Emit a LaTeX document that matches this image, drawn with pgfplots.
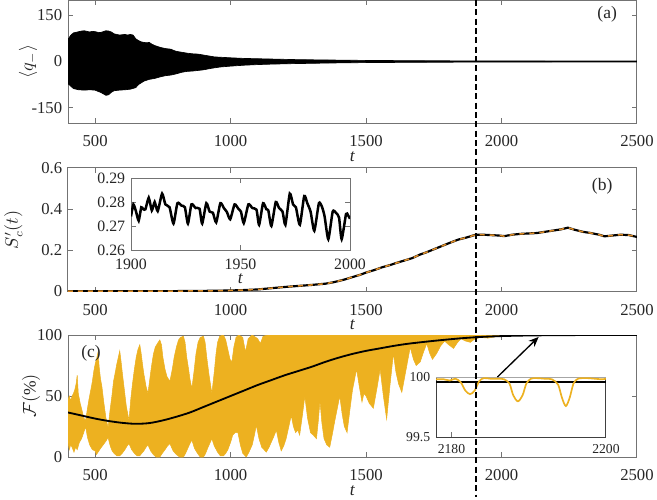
\documentclass[border=0pt]{standalone}
\usepackage{fontspec}
\setmainfont{Liberation Serif}
\usepackage{pgfplots}
\pgfplotsset{compat=1.18}
\usepgfplotslibrary{fillbetween}
\usetikzlibrary{arrows.meta}

\definecolor{myyel}{rgb}{0.929,0.694,0.125}
\definecolor{myorg}{rgb}{0.87,0.55,0.15}
\definecolor{axgray}{gray}{0.45}

\pgfplotsset{
  base/.style={
    scale only axis,
    tick align=inside, tick pos=both,
    major tick length=3pt,
    axis line style={axgray, line width=0.6pt},
    every tick/.style={axgray, line width=0.6pt},
    ticklabel style={font=\rmfamily\fontsize{10}{12}\selectfont, text=black!85},
    label style={font=\fontsize{10.5}{12}\selectfont, text=black!85},
    /pgf/number format/assume math mode=true,
    /pgf/number format/1000 sep={},
    scaled ticks=false,
    axis background/.style={fill=white},
  },
  panel/.style={
    base, width=341.4pt,
    xmin=400, xmax=2500, xtick={500,1000,...,2500},
    xticklabel style={yshift=-4pt},
    xlabel={\textit{t}},
    xlabel style={at={(axis description cs:0.5,0)}, anchor=center, yshift=-20pt},
  },
}

\begin{document}
\begin{tikzpicture}

% ---------- (a)
\begin{axis}[panel, at={(40.8pt,-73.8pt)}, anchor=south west, height=73.8pt,
  ymin=-200, ymax=200, ytick={-150,0,150},
  ylabel={$\langle q_{-}\rangle$},
  ylabel style={at={(axis description cs:-0.07,0.5)}, anchor=center}]
\addplot[name path=up, black, line width=0.4pt] coordinates {
 (400,72) (410,85) (420,93) (430,95) (440,97) (450,99) (460,100) (470,98)
 (480,96) (490,98) (500,97) (510,95) (520,94) (530,97) (540,100) (550,99)
 (560,96) (570,90) (580,88) (590,86) (600,87) (610,88) (620,86) (630,88)
 (640,86) (650,74) (660,68) (670,64) (680,62) (690,61) (700,62) (710,56)
 (720,52) (730,49) (740,46) (750,44) (760,42) (770,41) (780,40) (790,36)
 (800,33) (820,30) (840,27) (860,25) (880,24) (900,21) (920,18) (940,15)
 (960,14) (980,13) (1000,12) (1050,10) (1100,9) (1150,8) (1200,7) (1250,6)
 (1300,5.5) (1350,5) (1400,4.5) (1500,3.5) (1600,3) (1700,2.5) (1800,2.2)
 (1900,2) (2000,1.8) (2200,1.6) (2500,1.5)};
\addplot[name path=lo, black, line width=0.4pt] coordinates {
 (400,-72) (410,-80) (420,-88) (430,-90) (440,-92) (460,-93) (480,-92)
 (500,-93) (510,-97) (520,-100) (530,-105) (540,-110) (550,-108) (560,-100)
 (570,-95) (590,-93) (610,-92) (630,-90) (650,-85) (660,-75) (680,-64)
 (700,-58) (720,-55) (740,-50) (760,-46) (780,-44) (800,-40) (820,-35)
 (840,-32) (860,-31) (880,-29) (900,-27) (930,-22) (960,-18) (1000,-15)
 (1050,-12) (1100,-10) (1150,-8.5) (1200,-7.5) (1250,-6.5) (1300,-6)
 (1350,-5) (1400,-4.5) (1500,-3.5) (1600,-3) (1700,-2.5) (1800,-2.2)
 (1900,-2) (2000,-1.8) (2200,-1.6) (2500,-1.5)};
\addplot[black] fill between[of=up and lo];
\node[anchor=east, font=\fontsize{10.5}{12}\selectfont, text=black!85]
  at (axis description cs:0.975,0.88) {(a)};
\coordinate (dtop) at (axis cs:1907,200);
\end{axis}

% ---------- (b)
\begin{axis}[panel, at={(40.8pt,-174.9pt)}, anchor=south west, height=74.1pt,
  ymin=0, ymax=0.6, ytick={0,0.2,0.4,0.6},
  ylabel={$S'_c(t)$},
  ylabel style={at={(axis description cs:-0.096,0.5)}, anchor=center}]
\addplot[black, line width=1.3pt] coordinates {
 (400,0.002) (500,0.002) (600,0.001) (700,0.002) (800,0.002) (900,0.003)
 (1000,0.005) (1050,0.007) (1100,0.010) (1150,0.016) (1200,0.022)
 (1250,0.027) (1300,0.032) (1350,0.038) (1380,0.045) (1420,0.058)
 (1450,0.070) (1480,0.082) (1500,0.092) (1530,0.104) (1560,0.118)
 (1590,0.129) (1610,0.138) (1640,0.150) (1670,0.162) (1700,0.180)
 (1720,0.189) (1750,0.205) (1780,0.221) (1810,0.237) (1840,0.252)
 (1870,0.262) (1890,0.270) (1905,0.276) (1930,0.276) (1960,0.274)
 (1990,0.272) (2010,0.269) (2040,0.276) (2070,0.280) (2100,0.282)
 (2130,0.284) (2160,0.290) (2190,0.296) (2220,0.302) (2245,0.310)
 (2270,0.300) (2300,0.290) (2330,0.284) (2360,0.276) (2380,0.268)
 (2410,0.272) (2440,0.276) (2470,0.274) (2500,0.265)};
\addplot[myorg, line width=0.9pt, dash pattern=on 3pt off 3pt] coordinates {
 (400,0.002) (500,0.002) (600,0.001) (700,0.002) (800,0.002) (900,0.003)
 (1000,0.005) (1050,0.007) (1100,0.010) (1150,0.016) (1200,0.022)
 (1250,0.027) (1300,0.032) (1350,0.038) (1380,0.045) (1420,0.058)
 (1450,0.070) (1480,0.082) (1500,0.092) (1530,0.104) (1560,0.118)
 (1590,0.129) (1610,0.138) (1640,0.150) (1670,0.162) (1700,0.180)
 (1720,0.189) (1750,0.205) (1780,0.221) (1810,0.237) (1840,0.252)
 (1870,0.262) (1890,0.270) (1905,0.276) (1930,0.276) (1960,0.274)
 (1990,0.272) (2010,0.269) (2040,0.276) (2070,0.280) (2100,0.282)
 (2130,0.284) (2160,0.290) (2190,0.296) (2220,0.302) (2245,0.310)
 (2270,0.300) (2300,0.290) (2330,0.284) (2360,0.276) (2380,0.268)
 (2410,0.272) (2440,0.276) (2470,0.274) (2500,0.265)};
\node[anchor=east, font=\fontsize{10.5}{12}\selectfont, text=black!85]
  at (axis description cs:0.967,0.855) {(b)};
\end{axis}

% inset of (b)
\begin{axis}[base, at={(78.6pt,-150pt)}, anchor=south west,
  width=131.4pt, height=43.2pt,
  xmin=1900, xmax=2000, xtick={1900,1950,2000},
  ymin=0.26, ymax=0.29, ytick={0.26,0.27,0.28,0.29},
  ticklabel style={font=\rmfamily\fontsize{9.5}{11}\selectfont},
  /pgf/number format/fixed, /pgf/number format/precision=2,
  xticklabel style={yshift=-2pt},
  xlabel={\textit{t}},
  xlabel style={at={(axis description cs:0.5,0)}, anchor=center, yshift=-17pt}]
\addplot[black, line width=1.5pt, smooth, tension=0.35] coordinates {
 (1900.0,0.2740) (1901.1,0.2790) (1902.3,0.2760) (1903.5,0.2722)
 (1904.7,0.2778) (1905.6,0.2770) (1906.6,0.2770) (1908.1,0.2818)
 (1909.5,0.2765) (1910.8,0.2800) (1912.2,0.2762) (1914.2,0.2835)
 (1915.7,0.2790) (1917.6,0.2778) (1919.4,0.2710) (1921.2,0.2795)
 (1923.1,0.2785) (1924.6,0.2778) (1926.0,0.2710) (1927.6,0.2790)
 (1929.5,0.2775) (1931.3,0.2772) (1932.5,0.2710) (1934.4,0.2795)
 (1935.9,0.2760) (1937.4,0.2755) (1938.9,0.2715) (1940.8,0.2795)
 (1942.4,0.2775) (1943.8,0.2758) (1945.3,0.2728) (1947.3,0.2790)
 (1949.0,0.2772) (1950.2,0.2760) (1951.5,0.2712) (1953.6,0.2790)
 (1955.4,0.2775) (1957.3,0.2768) (1958.5,0.2705) (1960.3,0.2795)
 (1961.8,0.2770) (1962.7,0.2765) (1964.1,0.2700) (1966.1,0.2800)
 (1967.6,0.2775) (1969.2,0.2760) (1970.5,0.2705) (1972.5,0.2835)
 (1974.0,0.2790) (1975.3,0.2778) (1977.1,0.2705) (1979.1,0.2825)
 (1980.5,0.2795) (1982.0,0.2760) (1983.7,0.2680) (1985.8,0.2795)
 (1987.2,0.2780) (1988.4,0.2740) (1990.1,0.2645) (1992.1,0.2760)
 (1993.6,0.2755) (1995.0,0.2735) (1996.2,0.2645) (1998.2,0.2750)
 (1999.1,0.2745) (2000.0,0.2730)};
\end{axis}

% ---------- (c)
\begin{axis}[panel, at={(40.8pt,-274.2pt)}, anchor=south west, height=73.2pt,
  ymin=0, ymax=100, ytick={0,50,100},
  ylabel={$\mathcal{F}(\%)$},
  ylabel style={at={(axis description cs:-0.065,0.5)}, anchor=center}]
\addplot[name path=U, myyel, line width=0.3pt] coordinates {
 (400,47) (405,50) (410,46) (415,50) (420,52) (425,55) (430,60) (434,67)
 (438,52) (445,44) (452,38) (458,32) (465,30) (472,40) (478,48) (485,56)
 (490,62) (495,70) (500,76) (505,80) (511,86) (515,74) (520,64) (525,58)
 (532,45) (540,32) (548,24) (555,38) (562,50) (568,62) (575,70) (580,76)
 (586,82) (591,87) (596,78) (601,68) (608,55) (615,42) (625,30) (632,48)
 (638,60) (645,72) (652,82) (658,88) (665,92) (670,85) (675,76) (680,68)
 (688,58) (695,52) (702,64) (708,74) (715,84) (722,90) (730,93) (739,96)
 (745,92) (750,82) (758,72) (765,66) (776,62) (785,72) (792,82) (800,90)
 (808,96) (815,98) (826,99) (832,94) (838,82) (845,72) (850,64) (857,56)
 (865,70) (872,84) (880,94) (888,98) (900,99) (906,94) (912,82) (920,68)
 (931,52) (940,70) (946,84) (952,94) (960,99) (974,100) (982,96) (990,88)
 (998,80) (1005,78) (1012,90) (1020,98) (1030,100) (1045,98) (1055,86)
 (1065,97) (1080,100) (1100,97) (1110,93) (1120,99) (1140,100) (2500,100)};
\addplot[name path=L, myyel, line width=0.3pt] coordinates {
 (400,12) (405,6) (410,10) (415,8) (422,4) (428,8) (434,6) (442,12)
 (450,15) (458,20) (465,25) (472,16) (480,10) (490,6) (500,5) (505,2)
 (511,4) (520,7) (530,10) (540,13) (548,16) (556,9) (563,5) (570,3)
 (580,1) (591,1) (600,3) (610,6) (618,9) (625,11) (635,6) (645,3)
 (655,1) (665,1) (672,3) (680,5) (688,8) (695,10) (705,5) (715,2)
 (725,0) (739,0) (748,3) (758,6) (767,9) (776,11) (788,5) (800,2)
 (812,0) (826,0) (834,3) (842,7) (850,11) (857,14) (867,7) (878,3)
 (888,0) (900,0) (908,3) (915,7) (923,11) (931,15) (940,9) (952,4)
 (962,1) (974,1) (982,3) (990,6) (1000,12) (1008,18) (1017,20) (1027,20)
 (1036,10) (1045,3) (1058,0) (1068,4) (1080,10) (1088,18) (1095,26)
 (1105,15) (1115,8) (1132,4) (1142,8) (1150,12) (1160,17) (1169,22)
 (1178,12) (1187,5) (1196,9) (1205,15) (1214,24) (1224,34) (1232,25)
 (1240,20) (1248,22) (1255,18) (1265,34) (1274,50) (1284,32) (1295,20)
 (1305,18) (1317,15) (1324,30) (1330,46) (1337,28) (1345,15) (1355,10)
 (1366,8) (1375,18) (1385,30) (1394,40) (1403,50) (1412,35) (1420,25)
 (1430,20) (1440,38) (1450,55) (1458,64) (1465,72) (1475,58) (1485,45)
 (1492,52) (1500,50) (1512,44) (1527,40) (1540,56) (1552,72) (1564,50)
 (1576,31) (1588,58) (1601,85) (1610,70) (1620,60) (1632,53) (1648,72)
 (1663,90) (1675,80) (1685,75) (1700,78) (1712,86) (1724,93) (1735,85)
 (1745,80) (1761,85) (1775,91) (1790,95) (1805,92) (1823,89) (1838,94)
 (1850,97) (1868,95) (1885,94) (1900,96.5) (1920,98) (1950,97.5)
 (1975,98.5) (2000,99) (2050,99.8) (2100,99.9) (2500,99.9)};
\addplot[myyel] fill between[of=U and L];
\addplot[black, line width=1.1pt, smooth] coordinates {
 (400,36.5) (450,34) (500,31.5) (550,29.5) (600,28) (650,27.2) (700,27.8)
 (750,30) (800,33) (850,36.5) (900,41) (950,45.5) (1000,50) (1050,54.5)
 (1100,59) (1150,63) (1200,67) (1250,70.5) (1300,74) (1350,78)
 (1400,81.5) (1450,84.5) (1500,87) (1550,89) (1600,91) (1650,92.7)
 (1700,94) (1750,95.2) (1800,96.3) (1850,97.3) (1900,98.1) (1950,98.7)
 (2000,99.1) (2050,99.4) (2100,99.6) (2200,99.85) (2300,99.95) (2500,99.97)};
\node[anchor=west, font=\fontsize{10.5}{12}\selectfont, text=black!85]
  at (axis description cs:0.013,0.85) {(c)};
\coordinate (arrS) at (axis cs:1985,65.6);
\coordinate (arrE) at (axis cs:2137,98.4);
\end{axis}

% inset of (c)
\begin{axis}[base, at={(261.6pt,-262.2pt)}, anchor=south west,
  width=102pt, height=35.7pt,
  xmin=2178, xmax=2200, xtick={2180,2200},
  ymin=99.5, ymax=100, ytick={99.5,100},
  ticklabel style={font=\rmfamily\fontsize{8.2}{10}\selectfont},
  xticklabel style={yshift=-1pt},
  axis line style={black!75, line width=0.6pt}]
\addplot[gray!70, line width=1pt] coordinates {(2178,100) (2200,100)};
\addplot[black, line width=1pt] coordinates {(2178,99.965) (2200,99.965)};
\addplot[myyel, line width=1pt, smooth] coordinates {
 (2178,99.985) (2179,99.985) (2179.8,99.975) (2180.5,99.99) (2181.2,99.96)
 (2181.8,99.89) (2182.4,99.86) (2183,99.89) (2183.6,99.97) (2184.2,99.995)
 (2185,99.99) (2186,99.99) (2186.8,99.985) (2187.5,99.95) (2188,99.85)
 (2188.6,99.80) (2189.2,99.85) (2189.7,99.95) (2190.3,99.99) (2191,99.995)
 (2192,99.99) (2193,99.985) (2193.8,99.94) (2194.3,99.83) (2194.8,99.76)
 (2195.3,99.83) (2195.8,99.95) (2196.4,99.99) (2197.5,99.995) (2198.5,99.99)
 (2199.5,99.985) (2200,99.99)};
\end{axis}

\draw[black, line width=0.8pt, -{Stealth[length=6pt,width=5pt]}] (arrS) -- (arrE);
\draw[black, line width=1.4pt, dash pattern=on 3.6pt off 2pt] (dtop) -- ++(0,-298.2pt);

\pgfresetboundingbox
\path (0,0) rectangle (394.2pt,-300pt);
\end{tikzpicture}
\end{document}
